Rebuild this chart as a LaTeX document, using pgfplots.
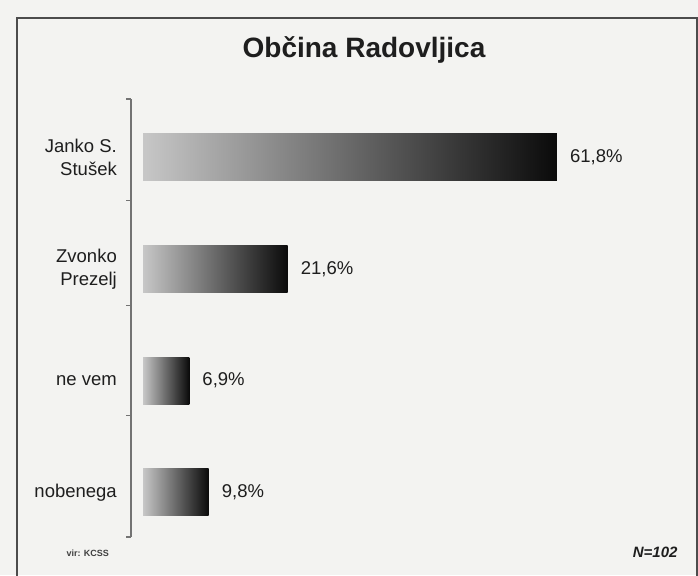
\documentclass[border=0pt]{standalone}
\usepackage{pgfplots}
\pgfplotsset{compat=1.18}
\usepackage{fontspec}
\setmainfont{Liberation Sans}
\definecolor{paper}{HTML}{F3F3F1}
\definecolor{ink}{HTML}{1E1E1E}
\begin{document}
\begin{tikzpicture}[x=1pt,y=1pt]
\fill[paper] (0,0) rectangle (698,575);
\useasboundingbox (0,0) rectangle (698,575);
\draw[black!70, line width=1.4pt] (17,-10) -- (17,557) -- (697,557) -- (697,-10);
\node[anchor=base, font=\fontsize{28}{30}\selectfont\bfseries, text=ink] at (364,517) {Občina Radovljica};
\begin{axis}[
  at={(131pt,38pt)}, anchor=south west, scale only axis,
  width=509pt, height=438pt,
  xmin=-1.8, xmax=74.2, ymin=-0.52, ymax=3.40, y dir=reverse,
  hide x axis, axis y line*=left,
  axis line style={black!55, line width=1.2pt},
  ytick={0,1,2,3},
  yticklabels={{Janko S.\\Stušek},{Zvonko\\Prezelj},{ne vem},{nobenega}},
  yticklabel style={align=right, font=\fontsize{18.5}{23}\selectfont, text=ink, inner sep=0pt, xshift=-14pt},
  major tick length=0pt,
  extra y ticks={-0.52,0.39,1.33,2.31,3.40},
  extra y tick labels={},
  extra y tick style={major tick length=5pt, tick align=outside, tick style={black!55, line width=1.2pt}},
  clip=false,
  every axis plot/.append style={xbar, bar width=47pt, bar shift=0pt, draw=none},
]
\addplot[left color=black!22, right color=black!96] coordinates {(61.8,0)};
\addplot[left color=black!22, right color=black!96] coordinates {(21.6,1)};
\addplot[left color=black!22, right color=black!96] coordinates {(6.9,2)};
\addplot[left color=black!22, right color=black!96] coordinates {(9.8,3)};
\addplot[draw=none, fill=none, mark=none, nodes near coords, point meta=explicit symbolic,
  nodes near coords style={anchor=west, inner sep=0pt, xshift=13pt, font=\fontsize{18.5}{22}\selectfont, text=ink}]
  coordinates {(61.8,0)[61,8\%] (21.6,1)[21,6\%] (6.9,2)[6,9\%] (9.8,3)[9,8\%]};
\end{axis}
\node[anchor=west, font=\fontsize{9}{10}\selectfont\bfseries, text=black!75] at (63,22) {vir: KCSS};
\node[anchor=east, font=\fontsize{15}{16}\selectfont\bfseries\itshape, text=ink] at (681,23) {N=102};
\end{tikzpicture}
\end{document}
